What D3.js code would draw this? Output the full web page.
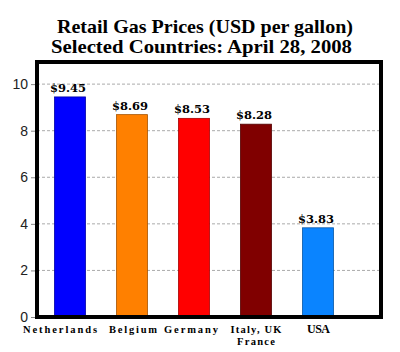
<!DOCTYPE html>
<html><head><meta charset="utf-8">
<script src="https://cdn.jsdelivr.net/npm/d3@7"></script>
<style>body{margin:0;background:#fff}svg{display:block}</style>
</head><body>
<svg id="c" width="400" height="352"></svg>
<script>
const categories = ["Netherlands", "Belgium", "Germany", "Italy, UK|France", "USA"];
const prices = [9.45, 8.69, 8.53, 8.28, 3.83];
const priceLabels = ["$9.45", "$8.69", "$8.53", "$8.28", "$3.83"];
const colors = ["#0000ff", "#ff8000", "#ff0000", "#800000", "#0a84ff"];
const yTicks = [0, 2, 4, 6, 8, 10];
const titleLines = ["Retail Gas Prices (USD per gallon)", "Selected Countries: April 28, 2008"];

// layout styling (label spread widths / centers as drawn in original)
const labelStyle = {
  "Netherlands": {w: [74], c: 60},
  "Belgium": {w: [48], c: 133},
  "Germany": {w: [54], c: 191},
  "Italy, UK|France": {w: [51, 38], c: 256},
  "USA": {w: [23], c: 318.5, size: 12}
};

const svg = d3.select("#c");
const frame = {l: 37, r: 381, t: 62, b: 317};
const x = d3.scaleBand().domain(categories).range([39, 349]).paddingInner(0.5).paddingOuter(0.25);
const y = d3.scaleLinear().domain([0, 10.95]).range([frame.b, frame.t]);

svg.selectAll("text.title").data(titleLines).join("text")
  .attr("x", (d, i) => i ? 51 : 57).attr("y", (d, i) => 33 + i * 20)
  .attr("textLength", (d, i) => i ? 301 : 296).attr("lengthAdjust", "spacingAndGlyphs")
  .style("font-family", "'Liberation Serif', serif").style("font-weight", "bold").style("font-size", "19px")
  .text(d => d);

// grid
svg.append("g").selectAll("line").data(yTicks.filter(d => d > 0)).join("line")
  .attr("x1", frame.l).attr("x2", frame.r).attr("y1", d => y(d)).attr("y2", d => y(d))
  .attr("stroke", "#aaa").attr("stroke-dasharray", "3,2").attr("stroke-width", 1);

const yAxis = svg.append("g").attr("transform", `translate(${frame.l},0)`)
  .call(d3.axisLeft(y).tickValues(yTicks).tickSize(6).tickPadding(3));
yAxis.select(".domain").remove();
yAxis.selectAll("line").attr("stroke", "#888");
yAxis.selectAll("text").style("font-family", "'Liberation Sans', Arial, sans-serif").style("font-size", "14px").attr("fill", "#222");

svg.selectAll("rect.bar").data(prices).join("rect")
  .attr("x", (d, i) => x(categories[i])).attr("width", x.bandwidth())
  .attr("y", d => y(d)).attr("height", d => y(0) - y(d))
  .attr("fill", (d, i) => colors[i]).attr("stroke", (d, i) => d3.color(colors[i]).darker(1.2)).attr("stroke-width", 0.8);

svg.selectAll("text.val").data(prices).join("text")
  .attr("x", (d, i) => x(categories[i]) + x.bandwidth() / 2 - 2).attr("y", d => y(d) - 5)
  .attr("text-anchor", "middle")
  .style("font-family", "'DejaVu Serif', serif").style("font-weight", "bold").style("font-size", "11.5px")
  .text((d, i) => priceLabels[i]);

// frame
svg.append("rect").attr("x", frame.l).attr("y", frame.t).attr("width", frame.r - frame.l).attr("height", frame.b - frame.t)
  .attr("fill", "none").attr("stroke", "#000").attr("stroke-width", 4);

categories.forEach(d => {
  const st = labelStyle[d];
  const parts = d.split("|");
  parts.forEach((p, i) => {
    svg.append("text")
      .attr("x", st.c - st.w[i] / 2).attr("y", 333 + i * 12)
      .attr("textLength", st.w[i]).attr("lengthAdjust", "spacing")
      .style("font-family", "'Liberation Serif', serif").style("font-weight", "bold")
      .style("font-size", (st.size || 10.5) + "px")
      .text(p);
  });
});
</script>
</body></html>
